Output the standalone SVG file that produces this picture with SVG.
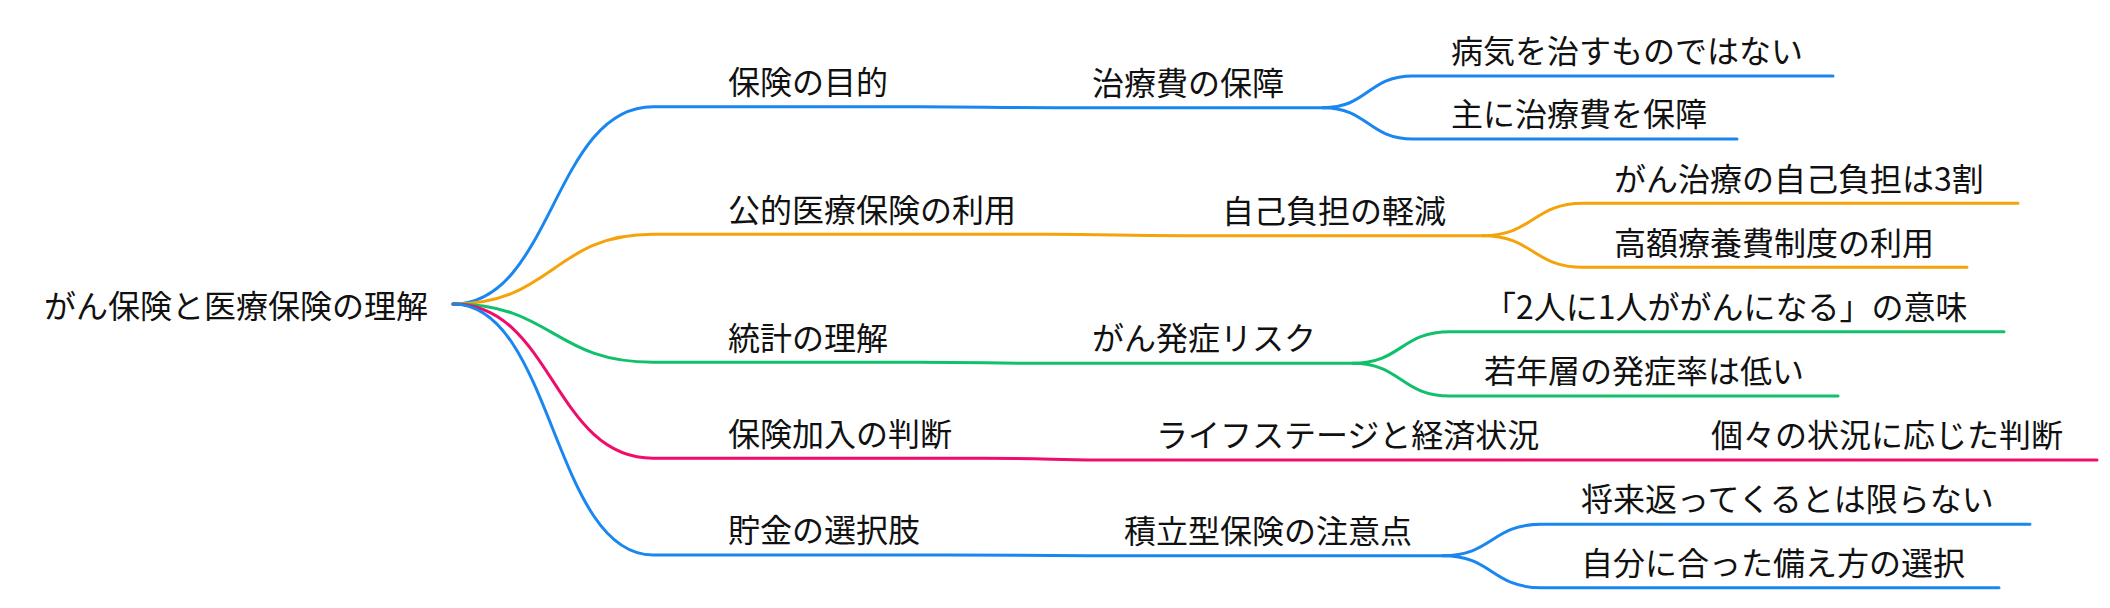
<svg xmlns="http://www.w3.org/2000/svg" width="2110" height="608" viewBox="0 0 2110 608">
<style>
  text { font-family: "Noto Sans CJK JP", "Noto Sans", sans-serif; font-size: 32px; fill: #111; }
  .lk { fill: none; stroke-width: 3; stroke-linecap: round; }
  .c1 { stroke: #1a86f0; }
  .c2 { stroke: #f5a30a; }
  .c3 { stroke: #10c06b; }
  .c4 { stroke: #ef0d6c; }
  .c5 { stroke: #1a86f0; }
</style>
<rect width="2110" height="608" fill="#ffffff"/>
<g id="connectors">
  <path class="lk c1" d="M453,304 C553,304 553,106.7 653,106.7 L918,106.7 C986,106.7 986,107.7 1055,107.7 L1323,107.7"/>
  <path class="lk c1" d="M1323,107.7 C1368,107.7 1368,76 1413,76 L1833,76"/>
  <path class="lk c1" d="M1323,107.7 C1368,107.7 1368,139 1413,139 L1737,139"/>
  <path class="lk c2" d="M453,304 C553,304 553,234.3 653,234.3 L1046,234.3 C1115,234.3 1115,235.7 1185,235.7 L1483,235.7"/>
  <path class="lk c2" d="M1483,235.7 C1533,235.7 1533,203.3 1583,203.3 L2018,203.3"/>
  <path class="lk c2" d="M1483,235.7 C1533,235.7 1533,267.3 1583,267.3 L1967,267.3"/>
  <path class="lk c3" d="M453,304 C553,304 553,362.3 653,362.3 L918,362.3 C986,362.3 986,363.3 1055,363.3 L1353,363.3"/>
  <path class="lk c3" d="M1353,363.3 C1401,363.3 1401,331.7 1450,331.7 L2004,331.7"/>
  <path class="lk c3" d="M1353,363.3 C1401,363.3 1401,396 1450,396 L1838,396"/>
  <path class="lk c4" d="M453,304 C553,304 553,458.3 653,458.3 L982,458.3 C1052,458.3 1052,460 1122,460 L2097,460"/>
  <path class="lk c5" d="M453,304 C553,304 553,555 653,555 L950,555 C1018,555 1018,555.7 1087,555.7 L1443,555.7"/>
  <path class="lk c5" d="M1443,555.7 C1492,555.7 1492,524.3 1541,524.3 L2030,524.3"/>
  <path class="lk c5" d="M1443,555.7 C1492,555.7 1492,587.7 1541,587.7 L1999,587.7"/>
</g>
<g id="root"><text x="44" y="318">がん保険と医療保険の理解</text></g>
<g id="n1"><text x="728" y="94">保険の目的</text></g>
<g id="n1-1"><text x="1092" y="94.7">治療費の保障</text></g>
<g id="n1-1-1"><text x="1451" y="63">病気を治すものではない</text></g>
<g id="n1-1-2"><text x="1451" y="126">主に治療費を保障</text></g>
<g id="n2"><text x="728" y="221.5">公的医療保険の利用</text></g>
<g id="n2-1"><text x="1222" y="222.7">自己負担の軽減</text></g>
<g id="n2-1-1"><text x="1614" y="190.5">がん治療の自己負担は3割</text></g>
<g id="n2-1-2"><text x="1614" y="254.5">高額療養費制度の利用</text></g>
<g id="n3"><text x="728" y="349.5">統計の理解</text></g>
<g id="n3-1"><text x="1092" y="350.3">がん発症リスク</text></g>
<g id="n3-1-1"><text x="1484" y="318.7">「2人に1人ががんになる」の意味</text></g>
<g id="n3-1-2"><text x="1484" y="383">若年層の発症率は低い</text></g>
<g id="n4"><text x="728" y="445.5">保険加入の判断</text></g>
<g id="n4-1"><text x="1156" y="447">ライフステージと経済状況</text></g>
<g id="n4-1-1"><text x="1711" y="447">個々の状況に応じた判断</text></g>
<g id="n5"><text x="728" y="542">貯金の選択肢</text></g>
<g id="n5-1"><text x="1124" y="542.7">積立型保険の注意点</text></g>
<g id="n5-1-1"><text x="1581" y="511.3">将来返ってくるとは限らない</text></g>
<g id="n5-1-2"><text x="1581" y="574.7">自分に合った備え方の選択</text></g>
</svg>
